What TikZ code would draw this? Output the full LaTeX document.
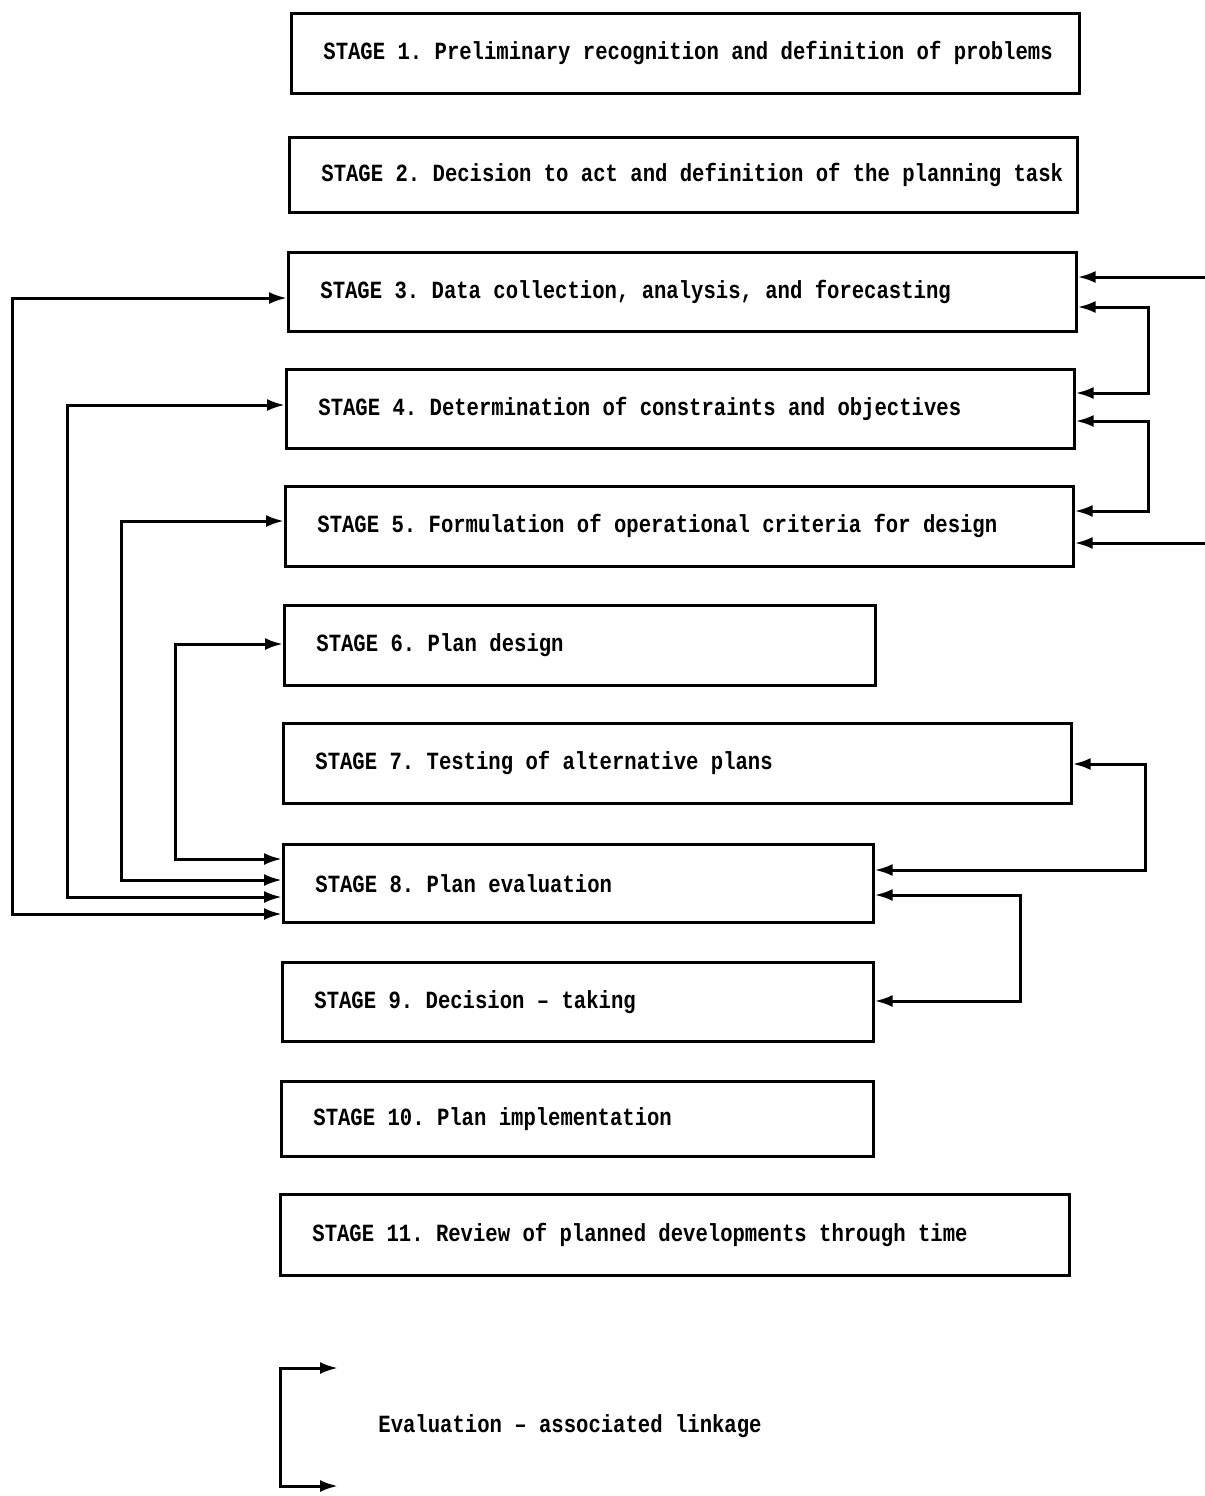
\documentclass[tikz,border=0pt]{standalone}
\usepackage{fontspec}
\usepackage{graphicx}
\setmonofont{Liberation Mono}
\usetikzlibrary{arrows.meta}
\newcommand{\talltxt}[1]{\scalebox{1}[1.2]{#1}}
\tikzset{
  stagebox/.style={draw, line width=1.3pt, rectangle, inner sep=0pt, anchor=north west},
  lbl/.style={anchor=west, inner sep=0pt, font=\ttfamily\bfseries\fontsize{10.3}{12}\selectfont},
  tip/.style={Latex[length=9pt,width=6pt]},
  link/.style={line width=1.5pt, {Latex[length=9pt,width=6pt]}-{Latex[length=9pt,width=6pt]}},
  onelink/.style={line width=1.5pt, -{Latex[length=9pt,width=6pt]}}
}
\newcommand{\stg}[6]{%
  \node[stagebox, minimum width={(#4-#2)*0.5pt}, minimum height={(#5-#3)*0.5pt}] (#1) at (#2,#3) {};
  \node[lbl] (t#1) at ([xshift=16.5pt]#1.west) {\talltxt{#6}};
}
\begin{document}
\begin{tikzpicture}[x=0.5pt,y=-0.5pt]
\path[use as bounding box, fill=white] (0,0) rectangle (1205,1496);
\stg{sa}{290}{12}{1078}{92}{STAGE 1. Preliminary recognition and definition of problems}
\stg{sb}{288}{136}{1076}{211}{STAGE 2. Decision to act and definition of the planning task}
\stg{sc}{287}{251}{1075}{330}{STAGE 3. Data collection, analysis, and forecasting}
\stg{sd}{285}{368}{1073}{447}{STAGE 4. Determination of constraints and objectives}
\stg{se}{284}{485}{1072}{565}{STAGE 5. Formulation of operational criteria for design}
\stg{sf}{283}{604}{874}{684}{STAGE 6. Plan design}
\stg{sg}{282}{722}{1070}{802}{STAGE 7. Testing of alternative plans}
\stg{sh}{282}{843}{872}{921}{STAGE 8. Plan evaluation}
\stg{si}{281}{961}{872}{1040}{STAGE 9. Decision – taking}
\stg{sj}{280}{1080}{872}{1155}{STAGE 10. Plan implementation}
\stg{sk}{279}{1193}{1068}{1274}{STAGE 11. Review of planned developments through time}
% left linkages
\draw[link] (sc.west |- 0,298) -| (12,914) -- (sh.west |- 0,914);
\draw[link] (sd.west |- 0,405) -| (67,897) -- (sh.west |- 0,897);
\draw[link] (se.west |- 0,521) -| (121,880) -- (sh.west |- 0,880);
\draw[link] (sf.west |- 0,644) -| (175,859) -- (sh.west |- 0,859);
% right linkages
\draw[link] (sc.east |- 0,307) -| (1148,393) -- (sd.east |- 0,393);
\draw[link] (sd.east |- 0,421) -| (1148,511) -- (se.east |- 0,511);
\draw[link] (sg.east |- 0,764) -| (1145,870) -- (sh.east |- 0,870);
\draw[link] (sh.east |- 0,895) -| (1020,1001) -- (si.east |- 0,1001);
\coordinate (inc) at (1205,277);
\coordinate (ine) at (1205,543);
\draw[onelink] (inc) -- (sc.east |- inc);
\draw[onelink] (ine) -- (se.east |- ine);
% legend
\coordinate (lga) at (338,1368);
\coordinate (lgb) at (338,1486);
\draw[link] (lga) -- (280,1368) -- (280,1486) -- (lgb);
\node[lbl] (lgt) at (378,1426) {\talltxt{Evaluation – associated linkage}};
\end{tikzpicture}
\end{document}
